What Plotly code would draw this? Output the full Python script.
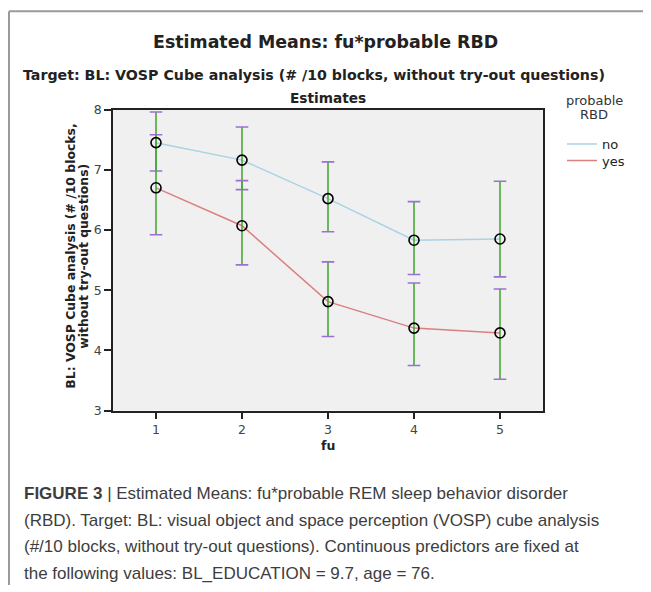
import plotly.graph_objects as go

# page body adds an 8px margin, so the figure is drawn 8px right/down
OX, OY = 8, 8
W, H = 651 - OX, 592 - OY

fu = [1, 2, 3, 4, 5]
no_mean = [7.45, 7.16, 6.52, 5.83, 5.85]
no_low = [6.98, 6.67, 5.97, 5.26, 5.22]
no_high = [7.96, 7.71, 7.13, 6.47, 6.81]
yes_mean = [6.70, 6.07, 4.81, 4.37, 4.29]
yes_low = [5.92, 5.42, 4.23, 3.75, 3.52]
yes_high = [7.58, 6.82, 5.47, 5.12, 5.02]

series = [
    ("no", no_mean, no_low, no_high, "#a9d3e4", "legend"),
    ("yes", yes_mean, yes_low, yes_high, "#dc7f80", "legend2"),
]

GREEN = "#4aa83a"
PURPLE = "#9a70d2"
chart_font = "DejaVu Sans"


def px_x(p):
    return (p - OX) / W


def px_y(p):
    return 1 - (p - OY) / H


fig = go.Figure()

for name, m, lo, hi, col, leg in series:
    fig.add_trace(go.Scatter(x=fu, y=m, mode="lines", name=name, legend=leg,
                             line=dict(color=col, width=1.5)))

for name, m, lo, hi, col, leg in series:
    fig.add_trace(go.Scatter(
        x=fu, y=m, mode="markers", showlegend=False, hoverinfo="skip",
        marker=dict(size=1, color="rgba(0,0,0,0)"),
        error_y=dict(type="data", symmetric=False,
                     array=[h - v for h, v in zip(hi, m)],
                     arrayminus=[v - l for v, l in zip(m, lo)],
                     color=GREEN, thickness=1.6, width=0)))
    fig.add_trace(go.Scatter(
        x=fu + fu, y=lo + hi, mode="markers", showlegend=False, hoverinfo="skip",
        marker=dict(symbol="line-ew", size=9,
                    line=dict(color=PURPLE, width=1.6))))

for name, m, lo, hi, col, leg in series:
    fig.add_trace(go.Scatter(
        x=fu, y=m, mode="markers", showlegend=False, hoverinfo="skip",
        marker=dict(symbol="circle-open", size=10, color="black",
                    line=dict(color="black", width=1.6))))

legend_common = dict(xanchor="left", yanchor="top", bgcolor="rgba(0,0,0,0)",
                     font=dict(size=13, color="#222"), itemwidth=30)

fig.update_layout(
    width=W, height=H,
    margin=dict(l=0, r=0, t=0, b=0),
    paper_bgcolor="white",
    plot_bgcolor="#f0f0f0",
    font=dict(family=chart_font, size=12, color="#333333"),
    xaxis=dict(domain=[px_x(113), px_x(543)], range=[0.5, 5.5],
               tickvals=fu, ticks="outside", ticklen=7, tickcolor="#222",
               tickwidth=1.5, showline=True, linecolor="#222", linewidth=1.5,
               mirror=True, showgrid=False, zeroline=False,
               tickfont=dict(size=12.5, color="#444")),
    yaxis=dict(domain=[px_y(413), px_y(104)], range=[3, 8], dtick=1,
               ticks="outside", ticklen=7, tickcolor="#222", tickwidth=1.5,
               showline=True, linecolor="#222", linewidth=1.5, mirror=True,
               showgrid=False, zeroline=False,
               tickfont=dict(size=12.5, color="#444")),
    legend=dict(x=px_x(562), y=px_y(124), **legend_common),
    legend2=dict(x=px_x(562), y=px_y(141), **legend_common),
    showlegend=True,
)

annotations = [
    dict(text="<b>Estimated Means: fu*probable RBD</b>", x=px_x(325), y=px_y(35),
         font=dict(size=17.4, color="#222", family=chart_font)),
    dict(text="<b>Target: BL: VOSP Cube analysis (# /10 blocks, without try-out questions)</b>",
         x=px_x(314), y=px_y(69), font=dict(size=14.2, color="#222", family=chart_font)),
    dict(text="<b>Estimates</b>", x=px_x(328), y=px_y(92),
         font=dict(size=13.7, color="#222", family=chart_font)),
    dict(text="<b>fu</b>", x=px_x(328), y=px_y(449),
         font=dict(size=12.5, color="#222", family=chart_font)),
    dict(text="<b>BL: VOSP Cube analysis (# /10 blocks,</b>",
         x=px_x(71), y=px_y(255), textangle=-90,
         font=dict(size=12.4, color="#222", family=chart_font)),
    dict(text="<b>without try-out questions)</b>",
         x=px_x(84), y=px_y(255), textangle=-90,
         font=dict(size=12.4, color="#222", family=chart_font)),
    dict(text="probable", x=px_x(594), y=px_y(95),
         font=dict(size=13, color="#333", family=chart_font)),
    dict(text="RBD", x=px_x(594), y=px_y(109),
         font=dict(size=13, color="#333", family=chart_font)),
]
caption_lines = [
    "<b>FIGURE 3</b> | Estimated Means: fu*probable REM sleep behavior disorder",
    "(RBD). Target: BL: visual object and space perception (VOSP) cube analysis",
    "(#/10 blocks, without try-out questions). Continuous predictors are fixed at",
    "the following values: BL_EDUCATION = 9.7, age = 76.",
]
for i, t in enumerate(caption_lines):
    annotations.append(dict(text=t, x=px_x(22), y=px_y(498 + 27.3 * i), xanchor="left",
                            font=dict(size=17, color="#3d3d3d", family="Liberation Sans")))
for a in annotations:
    a.setdefault("xanchor", "center")
    a.update(xref="paper", yref="paper", yanchor="middle", showarrow=False)
fig.update_layout(annotations=annotations)

fig.update_layout(shapes=[
    dict(type="line", xref="paper", yref="paper", x0=px_x(9), x1=1, y0=px_y(3), y1=px_y(3),
         line=dict(color="#9a9a9a", width=2)),
    dict(type="line", xref="paper", yref="paper", x0=px_x(9), x1=px_x(9), y0=px_y(3), y1=0,
         line=dict(color="#9a9a9a", width=2)),
])

fig.write_html("out.html")
